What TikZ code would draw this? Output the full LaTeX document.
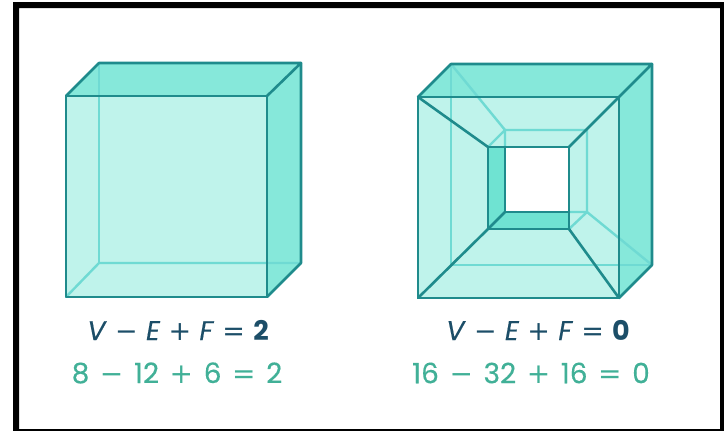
\documentclass[tikz,border=0pt]{standalone}
\usepackage{fontspec}
\setmainfont{Poppins}[UprightFeatures={FakeBold=0.25}, ItalicFeatures={FakeBold=0.25}]
\newfontfamily\opfont{DejaVu Sans}
\newcommand{\opminus}{{\opfont −}}
\newcommand{\opplus}{{\opfont +}}
\newcommand{\opequal}{{\opfont =}}
\definecolor{facelight}{HTML}{BFF3EB}
\definecolor{facedark}{HTML}{86E8DA}
\definecolor{faceinner}{HTML}{6FE3D2}
\definecolor{edgedark}{HTML}{1F8B8C}
\definecolor{edgelight}{HTML}{6FDAD3}
\definecolor{inkdark}{HTML}{1C4E68}
\definecolor{inkgreen}{HTML}{41B097}
\begin{document}
\begin{tikzpicture}[
    x=1pt, y=-1pt,
    edge/.style={draw=edgedark, line width=2.6pt, line join=round, line cap=round},
    hidden/.style={draw=edgelight, line width=2.4pt, line join=round, line cap=round},
    sum/.style={font=\fontsize{27}{32}\selectfont\spaceskip 8.3pt\relax, text=inkdark, anchor=center, inner sep=0pt},
    count/.style={font=\fontsize{28}{32}\selectfont\spaceskip 10.6pt\relax, text=inkgreen, anchor=center, inner sep=0pt}
]
\useasboundingbox (0,0) rectangle (724,431);

% Frame
\fill[black, even odd rule] (13,2) rectangle (724,431) (19,8) rectangle (720,429);

% Corners of the solid cube
\coordinate (fa) at (66,96);
\coordinate (fb) at (267,96);
\coordinate (fc) at (267,297);
\coordinate (fd) at (66,297);
\coordinate (ba) at (99,63);
\coordinate (bb) at (301,63);
\coordinate (bc) at (301,263);
\coordinate (bd) at (99,263);

% Solid cube
\fill[facelight] (fa) -- (fb) -- (fc) -- (fd) -- cycle;
\fill[facedark] (fa) -- (ba) -- (bb) -- (fb) -- cycle;
\fill[facedark] (fb) -- (bb) -- (bc) -- (fc) -- cycle;
\draw[hidden] (fd) -- (bd) -- (bc);
\draw[hidden] (ba) -- (bd);
\draw[edge] (fa) -- (fb) -- (fc) -- (fd) -- cycle;
\draw[edge] (fa) -- (ba) -- (bb) -- (fb);
\draw[edge] (bb) -- (bc) -- (fc);

% Corners of the cube with the tunnel
\coordinate (pa) at (418,97);
\coordinate (pb) at (619,97);
\coordinate (pc) at (619,298);
\coordinate (pd) at (418,298);
\coordinate (qa) at (451,64);
\coordinate (qb) at (652,64);
\coordinate (qc) at (652,265);
\coordinate (qd) at (451,265);
\coordinate (ra) at (488,147);
\coordinate (rb) at (569,147);
\coordinate (rc) at (569,229);
\coordinate (rd) at (488,229);
\coordinate (sa) at (505,130);
\coordinate (sb) at (587,130);
\coordinate (sc) at (587,212);
\coordinate (sd) at (505,212);
\coordinate (ha) at (505,147);
\coordinate (hc) at (569,212);

% Cube with the tunnel
\fill[facelight] (pa) -- (pb) -- (pc) -- (pd) -- cycle;
\fill[facedark] (pa) -- (qa) -- (qb) -- (pb) -- cycle;
\fill[facedark] (pb) -- (qb) -- (qc) -- (pc) -- cycle;
\fill[white] (ha) rectangle (hc);
\fill[faceinner] (ra) -- (ha) -- (sd) -- (rd) -- cycle;
\fill[faceinner] (rd) -- (sd) -- (hc) -- (rc) -- cycle;
\draw[hidden] (qa) -- (qd) -- (qc);
\draw[hidden] (qa) -- (sa) -- (sb) -- (sc) -- (hc);
\draw[hidden] (ra) -- (sa) -- (ha);
\draw[hidden] (sc) -- (rc);
\draw[hidden] (sc) -- (qc);
\draw[edge] (pa) -- (pb) -- (pc) -- (pd) -- cycle;
\draw[edge] (pa) -- (qa) -- (qb) -- (pb);
\draw[edge] (qb) -- (qc) -- (pc);
\draw[edge] (pa) -- (ra);
\draw[edge] (pb) -- (rb);
\draw[edge] (pc) -- (rc);
\draw[edge] (pd) -- (rd);
\draw[edge] (ra) -- (rb) -- (rc) -- (rd) -- cycle;
\draw[edge] (ha) -- (sd) -- (hc);
\draw[edge] (rd) -- (sd);

% Labels
\node[sum] (sumleft) at (178,330) {\textit{V} \opminus{} \textit{E} \opplus{} \textit{F} \opequal{} \textbf{2}};
\node[count] (countleft) at (177,373) {8 \opminus{} 12 \opplus{} 6 \opequal{} 2};
\node[sum] (sumright) at (538,330) {\textit{V} \opminus{} \textit{E} \opplus{} \textit{F} \opequal{} \textbf{0}};
\node[count] (countright) at (531,373) {16 \opminus{} 32 \opplus{} 16 \opequal{} 0};

\end{tikzpicture}
\end{document}
